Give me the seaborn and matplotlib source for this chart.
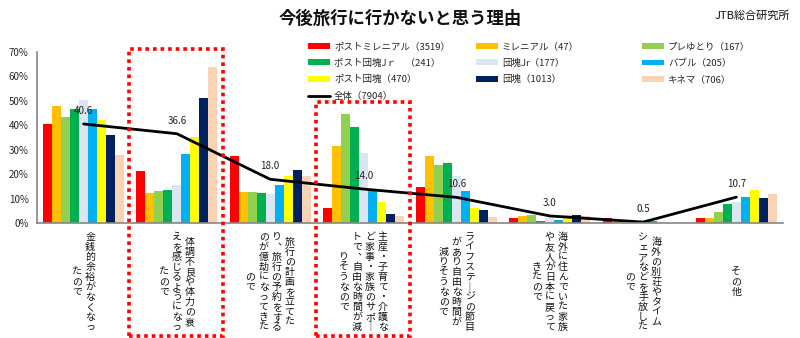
import numpy as np
import pandas as pd
import matplotlib
matplotlib.use("Agg")
import matplotlib.pyplot as plt
import seaborn as sns
from matplotlib.patches import Rectangle, Patch
from matplotlib.lines import Line2D

sns.set_style("white")
plt.rcParams['font.family'] = ['Noto Sans CJK JP', 'DejaVu Sans']

# ---- data ----
categories = ["金銭的余裕", "体調・体力", "計画億劫", "家事サポート", "ライフステージ",
              "家族帰国", "別荘手放し", "その他"]
category_columns = [
    ["金銭的余裕がなくなっ", "たので"],
    ["体調不良や体力の衰", "えを感じるようになっ", "たので"],
    ["旅行の計画を立てた", "り、旅行の予約をする", "のが億劫になってきた", "ので"],
    ["主産・子育て・介護な", "ど家事・家族のサポー", "トで、自由な時間が減", "りそうなので"],
    ["ライフステージの節目", "があり自由な時間が", "減りそうなので"],
    ["海外に住んでいた家族", "や友人が日本に戻って", "きたので"],
    ["海外の別荘やタイム", "シェアなどを手放した", "ので"],
    ["その他"],
]
generations = ["ポストミレニアル（3519）", "ミレニアル（47）", "プレゆとり（167）",
               "ポスト団塊Jｒ　（241）", "団塊Jr（177）", "バブル（205）",
               "ポスト団塊（470）", "団塊（1013）", "キネマ（706）"]
total_label = "全体（7904）"

post_millennial = [40.5, 21.3, 27.5, 6.4, 14.8, 2.0, 2.0, 2.0]
millennial      = [48.0, 12.4, 12.9, 31.6, 27.5, 3.0, 1.0, 2.2]
pre_yutori      = [43.6, 13.2, 12.7, 44.8, 23.8, 3.3, 0.5, 4.7]
post_dankai_jr  = [46.9, 13.5, 12.3, 39.5, 24.8, 1.1, 0.3, 7.8]
dankai_jr       = [50.3, 15.5, 12.0, 28.9, 19.3, 2.0, 0.3, 8.8]
bubble          = [46.9, 28.2, 15.8, 13.2, 13.2, 1.5, 1.0, 10.9]
post_dankai     = [42.2, 35.3, 19.3, 8.7, 6.4, 3.3, 0.3, 13.6]
dankai          = [36.0, 51.4, 21.8, 3.9, 5.3, 3.4, 0.0, 10.5]
kinema          = [27.9, 64.0, 19.3, 3.0, 2.6, 3.0, 0.0, 11.8]
total           = [40.6, 36.6, 18.0, 14.0, 10.6, 3.0, 0.5, 10.7]

series = [post_millennial, millennial, pre_yutori, post_dankai_jr, dankai_jr,
          bubble, post_dankai, dankai, kinema]
colors = ["#FF0000", "#FFC000", "#92D050", "#00B050", "#DCE6F2",
          "#00B0F0", "#FFFF00", "#002060", "#FAD3B4"]

rows = []
for gen, vals in zip(generations, series):
    for cat, v in zip(categories, vals):
        rows.append({"cat": cat, "gen": gen, "value": v})
df = pd.DataFrame(rows)

# ---- figure ----
W, H = 800, 338
fig = plt.figure(figsize=(W / 100, H / 100), dpi=100)
fig.patch.set_facecolor("white")
y0_px, y70_px = 223.3, 52.0
ax = fig.add_axes([37 / W, 1 - y0_px / H, 746 / W, (y0_px - y70_px) / H])

sns.barplot(data=df, x="cat", y="value", hue="gen", order=categories,
            hue_order=generations, palette=colors, saturation=1, width=0.87,
            edgecolor="none", linewidth=0, legend=False, ax=ax)

xs = np.arange(len(categories))
sns.lineplot(x=xs, y=total, color="black", linewidth=2, ax=ax)
for x, v in zip(xs, total):
    ax.annotate(f"{v:.1f}", (x, v), xytext=(0, 9.5), textcoords="offset points",
                ha="center", va="center", fontsize=7, color="#222222")

ax.set_xlim(-0.5, len(categories) - 0.5)
ax.set_ylim(0, 70)
ax.set_yticks(np.arange(0, 71, 10))
ax.set_yticklabels([f"{t}%" for t in range(0, 71, 10)], fontsize=7)
ax.set_xticks(np.arange(-0.5, len(categories), 1))
ax.set_xticklabels([])
ax.set_xlabel("")
ax.set_ylabel("")
ax.tick_params(axis="y", direction="out", length=3, width=0.8, color="#868686", pad=3)
ax.tick_params(axis="x", direction="out", length=4, width=0.8, color="#868686")
for s in ["top", "right"]:
    ax.spines[s].set_visible(False)
for s in ["left", "bottom"]:
    ax.spines[s].set_color("#868686")
    ax.spines[s].set_linewidth(1.2)

# ---- vertical category labels ----
vert_map = {"ー": "︱", "、": "︑"}
col_gap = 13.0
pitch = 10.0
center_y = 282.0
for i, cols in enumerate(category_columns):
    cx = ax.transData.transform((i, 0))[0]
    n = len(cols)
    for k, col in enumerate(cols):
        x = cx + (n - 1) / 2 * col_gap - k * col_gap
        m = len(col)
        top = center_y - (m - 1) / 2 * pitch
        for j, ch in enumerate(col):
            ch = vert_map.get(ch, ch)
            fig.text(x / W, 1 - (top + j * pitch) / H, ch, ha="center", va="center",
                     fontsize=7.2, color="#111111")

# ---- red dotted boxes ----
for (x0, y0, x1, y1) in [(129, 49, 223, 336), (316, 102, 410, 336)]:
    fig.patches.append(Rectangle((x0 / W, 1 - y1 / H), (x1 - x0) / W, (y1 - y0) / H,
                                 transform=fig.transFigure, fill=False,
                                 edgecolor="#FF0000", linewidth=2.6,
                                 linestyle=(0, (1, 1.1)), zorder=10))

# ---- legend (3 columns, row-major) ----
handles = [Patch(facecolor=c, edgecolor="none") for c in colors]
line_handle = Line2D([], [], color="black", linewidth=2)
col_x = [308, 476, 642]
col_items = [[0, 3, 6, "total"], [1, 4, 7], [2, 5, 8]]
for cx_px, items in zip(col_x, col_items):
    hs, ls = [], []
    for it in items:
        if it == "total":
            hs.append(line_handle)
            ls.append(total_label)
        else:
            hs.append(handles[it])
            ls.append(generations[it])
    fig.legend(hs, ls, loc="upper left", bbox_to_anchor=(cx_px / W, 1 - 42 / H),
               frameon=False, fontsize=6.8, handlelength=2.3, handleheight=0.55,
               handletextpad=0.45, labelspacing=0.78, borderpad=0, borderaxespad=0)

# ---- titles ----
fig.text(400 / W, 1 - 19 / H, "今後旅行に行かないと思う理由", ha="center", va="center",
         fontsize=12.5, fontweight="bold", color="#111111")
fig.text(790 / W, 1 - 16 / H, "JTB総合研究所", ha="right", va="center",
         fontsize=8, color="#111111")

fig.savefig("out.png", dpi=100, facecolor="white")
